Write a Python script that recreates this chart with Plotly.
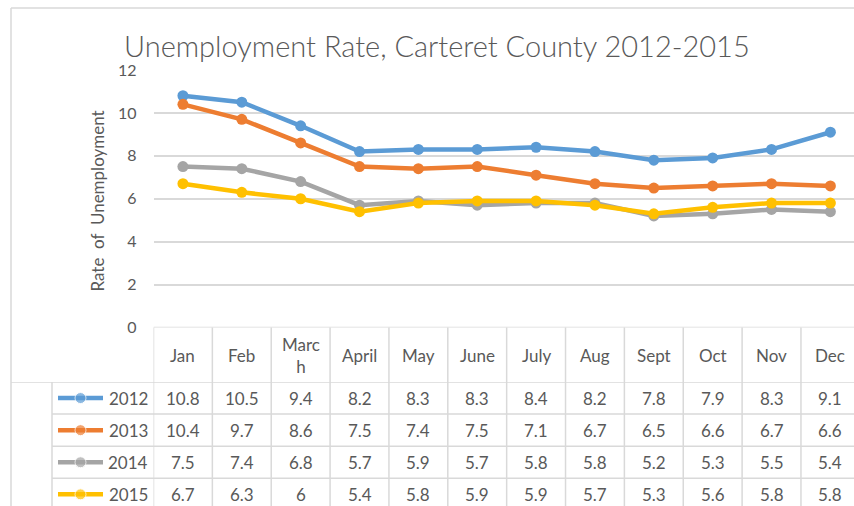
import plotly.graph_objects as go

# ---------------- data ----------------
months = ["Jan", "Feb", "March", "April", "May", "June", "July", "Aug", "Sept", "Oct", "Nov", "Dec"]
month_labels = ["Jan", "Feb", "Marc<br>h", "April", "May", "June", "July", "Aug", "Sept", "Oct", "Nov", "Dec"]
years = ["2012", "2013", "2014", "2015"]
rate_2012 = [10.8, 10.5, 9.4, 8.2, 8.3, 8.3, 8.4, 8.2, 7.8, 7.9, 8.3, 9.1]
rate_2013 = [10.4, 9.7, 8.6, 7.5, 7.4, 7.5, 7.1, 6.7, 6.5, 6.6, 6.7, 6.6]
rate_2014 = [7.5, 7.4, 6.8, 5.7, 5.9, 5.7, 5.8, 5.8, 5.2, 5.3, 5.5, 5.4]
rate_2015 = [6.7, 6.3, 6.0, 5.4, 5.8, 5.9, 5.9, 5.7, 5.3, 5.6, 5.8, 5.8]
series = [rate_2012, rate_2013, rate_2014, rate_2015]
colors = ["#5B9BD5", "#ED7D31", "#A5A5A5", "#FFC000"]
y_ticks = [0, 2, 4, 6, 8, 10, 12]

# ---------------- layout geometry (pixels) ----------------
W, H = 854, 506
FONT = "Lato, 'Open Sans', sans-serif"
TXT = "#595959"
GRID = "#d9d9d9"

plot_left = 153.5
col_w = 58.86
plot_top, plot_bottom = 70, 327.5
head_bottom = 382
row_h = 32.1
legend_left = 52
border_left, border_top = 11, 8


def px(x):
    return x / W


def py(y):
    return 1 - y / H


x_idx = list(range(len(months)))

fig = go.Figure()
for name, vals, c in zip(years, series, colors):
    fig.add_trace(go.Scatter(
        x=x_idx, y=vals, name=name, mode="lines+markers",
        line=dict(color=c, width=4.5), marker=dict(color=c, size=11),
        xaxis="x", yaxis="y", showlegend=False, hoverinfo="x+y+name",
    ))

# legend keys inside the data table
for k, (name, c) in enumerate(zip(years, colors)):
    fig.add_trace(go.Scatter(
        x=[6, 28.5, 51], y=[k, k, k], mode="lines+markers",
        line=dict(color=c, width=4.5), marker=dict(color=c, size=[0, 11, 0]),
        xaxis="x2", yaxis="y2", showlegend=False, hoverinfo="skip",
    ))

x_max = -0.5 + (W - plot_left) / col_w
rows_span = (H - head_bottom) / row_h

fig.update_layout(
    width=W, height=H,
    margin=dict(l=0, r=0, t=0, b=0, pad=0, autoexpand=False),
    paper_bgcolor="white", plot_bgcolor="white",
    font=dict(family=FONT, color=TXT, size=16),
    xaxis=dict(domain=[px(plot_left), 1], range=[-0.5, x_max], automargin=False,
               showgrid=False, zeroline=False, showline=False,
               showticklabels=False, ticks="", fixedrange=True),
    yaxis=dict(domain=[py(plot_bottom), py(plot_top)], range=[0, 12], automargin=False,
               tickvals=y_ticks, showgrid=True, gridcolor=GRID, gridwidth=1.5,
               zeroline=False, showline=False, ticks="",
               ticklabelstandoff=16, fixedrange=True,
               tickfont=dict(size=16, color=TXT, family=FONT)),
    xaxis2=dict(domain=[px(legend_left), px(plot_left)], range=[0, plot_left - legend_left],
                visible=False, anchor="y2", automargin=False, fixedrange=True),
    yaxis2=dict(domain=[0, py(head_bottom)], range=[-0.5 + rows_span, -0.5],
                visible=False, anchor="x2", automargin=False, fixedrange=True),
    showlegend=False,
)

shapes = []
line = dict(color=GRID, width=1.5)
# outer chart border
shapes.append(dict(type="line", xref="paper", yref="paper", x0=px(border_left), x1=px(border_left),
                   y0=0, y1=py(border_top), line=line))
shapes.append(dict(type="line", xref="paper", yref="paper", x0=px(border_left), x1=1,
                   y0=py(border_top), y1=py(border_top), line=line))
# table top (axis baseline)
shapes.append(dict(type="line", xref="x", yref="y", x0=-0.5, x1=x_max, y0=0, y1=0, line=line))
# column separators
for i in range(len(months) + 1):
    shapes.append(dict(type="line", xref="x", yref="paper", x0=i - 0.5, x1=i - 0.5,
                       y0=0, y1=py(plot_bottom), line=line))
# line under header
shapes.append(dict(type="line", xref="paper", yref="y2", x0=px(border_left), x1=1,
                   y0=-0.5, y1=-0.5, line=line))
# row separators
for k in range(len(years)):
    shapes.append(dict(type="line", xref="paper", yref="y2", x0=px(legend_left), x1=1,
                       y0=k + 0.5, y1=k + 0.5, line=line))
# legend column separator
shapes.append(dict(type="line", xref="paper", yref="y2", x0=px(legend_left), x1=px(legend_left),
                   y0=-0.5, y1=-0.5 + rows_span, line=line))

annotations = []
# title
annotations.append(dict(text="Unemployment Rate, Carteret County 2012-2015",
                        xref="paper", yref="paper", x=px(437.5), y=py(45.5),
                        xanchor="center", yanchor="middle", showarrow=False,
                        font=dict(size=29, color=TXT, family=FONT, weight=300)))
# y-axis title
annotations.append(dict(text="Rate\u00a0\u00a0of\u00a0\u00a0Unemployment",
                        xref="paper", yref="paper", x=px(97.5), y=py(201),
                        xanchor="center", yanchor="middle", textangle=-90, showarrow=False,
                        font=dict(size=17, color=TXT, family=FONT)))
# header labels
for i, lab in enumerate(month_labels):
    annotations.append(dict(text=lab, xref="x", yref="paper", x=i, y=py(355.5),
                            xanchor="center", yanchor="middle", showarrow=False,
                            font=dict(size=17, color=TXT, family=FONT)))
# data values
for k, vals in enumerate(series):
    for i, v in enumerate(vals):
        annotations.append(dict(text=f"{v:g}", xref="x", yref="y2", x=i, y=k,
                                xanchor="center", yanchor="middle", showarrow=False,
                                font=dict(size=17, color=TXT, family=FONT)))
# legend labels
for k, name in enumerate(years):
    annotations.append(dict(text=name, xref="x2", yref="y2", x=plot_left - legend_left - 4, y=k,
                            xanchor="right", yanchor="middle", showarrow=False,
                            font=dict(size=17, color=TXT, family=FONT)))

fig.update_layout(shapes=shapes, annotations=annotations)

post = (
    "document.documentElement.style.margin='0';"
    "document.body.style.margin='0';"
    "document.body.style.overflow='hidden';"
    "var gd=document.getElementById('{plot_id}');"
    "gd.style.position='absolute';gd.style.left='0px';gd.style.top='0px';"
)
fig.write_html("out.html", post_script=post, config={"displayModeBar": False})
